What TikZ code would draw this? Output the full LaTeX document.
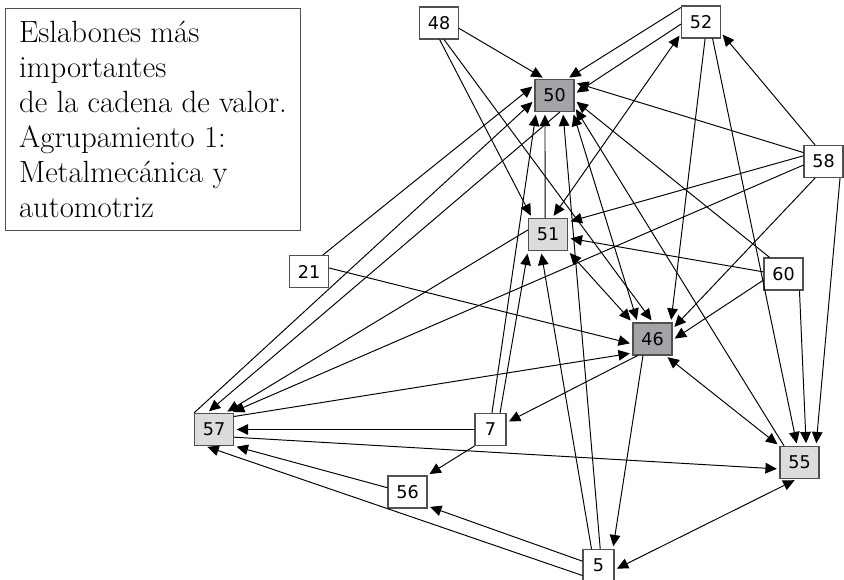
\documentclass[tikz,border=0pt]{standalone}
\usepackage{fontspec}
\newfontfamily\boxfont{DejaVu Sans}
\usepackage{xcolor}
\usetikzlibrary{arrows.meta}

\definecolor{hotgray}{RGB}{163,163,168}
\definecolor{warmgray}{RGB}{220,220,222}
\definecolor{edgegray}{RGB}{80,80,80}

\tikzset{
  nbox/.style={draw=edgegray, line width=0.6pt, fill=white, font=\boxfont\fontsize{10}{11}\selectfont,
    minimum width=0.78cm, minimum height=0.64cm, inner sep=1pt},
  one/.style={nbox, minimum width=0.62cm},
  hot/.style={nbox, fill=hotgray},
  warm/.style={nbox, fill=warmgray},
  link/.style={-{Triangle[length=6.5pt,width=6pt]}, line width=0.55pt, shorten >=1.5pt},
  both/.style={{Triangle[length=6.5pt,width=6pt]}-{Triangle[length=6.5pt,width=6pt]}, line width=0.55pt,
    shorten >=1.5pt, shorten <=1.5pt}
}

\begin{document}
\begin{tikzpicture}[x=0.02cm, y=-0.02cm]
    \useasboundingbox (0,0) rectangle (844,580);

    % Title box
    \node[draw=edgegray, line width=0.6pt, anchor=north west, minimum width=5.9cm, minimum height=4.44cm,
      align=left, font=\fontsize{17.5}{19.9}\selectfont] (titulo) at (5,8)
      {Eslabones más\\importantes\\de la cadena de valor.\\Agrupamiento 1:\\Metalmecánica y\\automotriz};

    % Eslabones
    \foreach \name/\x/\y/\kind in {48/439/23/nbox, 52/701/22/nbox, 50/554.5/95.5/hot, 58/823.5/161.5/nbox,
        51/548/234.5/warm, 21/309/271.5/nbox, 60/783.5/274/nbox, 46/652.5/339/hot, 7/490.5/429.5/one,
        57/214/429.5/warm, 55/799.5/462.5/warm, 56/407.5/492/nbox, 5/598.5/565.5/one}
        \node[\kind] (n\name) at (\x,\y) {\name};

    % One-way links
    \foreach \a/\b in {n48.-15/n50.120, n48.-88/n51.134, n48.-73/n46.88,
        n52.144/n50.53, n52.186/n50.4, n52.-76/n46.42, n52.-55/n55.98,
        n58.117/n52.-28, n58.156/n50.33, n58.164/n51.32, n58.190/n57.45, n58.243/n46.27, n58.-45/n55.45,
        n60.130/n50.-13, n60.174/n51.-10, n60.197/n46.-3, n60.-46/n55.68,
        n21.50/n50.152, n21.10/n46.194,
        n57.north west/n50.193, n50.-72/n57.113, n51.167/n57.56, n57.33/n46.215, n57.-21/n55.198,
        n51.100/n50.240, n55.133/n50.-30,
        n7.85/n50.222, n7.60/n51.south west, n7.west/n57.east, n7.south west/n56.40,
        n46.228/n7.23, n46.240/n5.49,
        n5.84/n50.-63, n5.113/n51.247, n5.165/n56.-35, n5.212/n57.241,
        n56.168/n57.south east}
        \draw[link] (\a) -- (\b);

    % Two-way links
    \foreach \a/\b in {n51.76/n52.210, n51.south east/n46.north west, n50.-42/n46.132,
        n46.-52/n55.north west, n5.-15/n55.261}
        \draw[both] (\a) -- (\b);
\end{tikzpicture}
\end{document}
